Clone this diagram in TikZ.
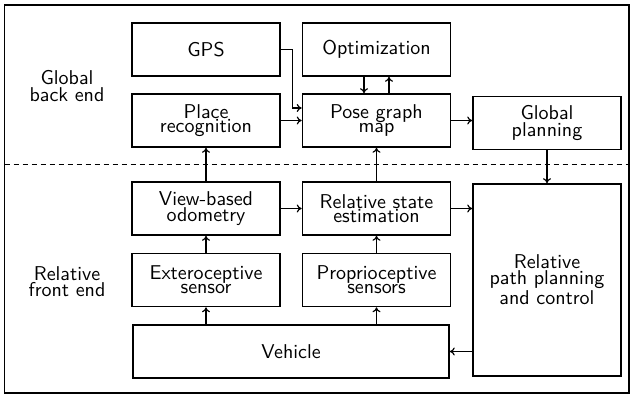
\documentclass[tikz,border=0pt]{standalone}
\usetikzlibrary{arrows.meta}
\begin{document}
\begin{tikzpicture}[x=0.5pt,y=-0.5pt,
  txt/.style={align=center,font=\sffamily\fontsize{10}{7}\selectfont,inner sep=0pt},
  box/.style={txt,draw,line width=0.8pt,minimum width=74pt,minimum height=26.5pt},
  arr/.style={-{To[length=2.5pt,width=4pt]},line width=0.6pt}]
\useasboundingbox (0,0) rectangle (633,396);
\draw[line width=0.8pt] (4.5,5) rectangle (629,393);
\draw[dashed,line width=0.5pt,dash pattern=on 2.5pt off 2pt] (4.5,164) coordinate (dl) -- (629,164) coordinate (dr);
% labels
\node[txt] (lgb) at (67,86) {Global\\back end};
\node[txt] (lrf) at (67,282) {Relative\\front end};
% boxes
\node[box] (gps) at (206,49.5) {GPS};
\node[box] (place) at (206,120.5) {Place\\recognition};
\node[box] (opt) at (376.5,49.5) {Optimization};
\node[box] (pose) at (376.5,120.5) {Pose graph\\map};
\node[box] (glob) at (547,123) {Global\\planning};
\node[box] (view) at (206,208.5) {View-based\\odometry};
\node[box] (rel) at (376.5,208.5) {Relative state\\estimation};
\node[box] (ext) at (206,280) {Exteroceptive\\sensor};
\node[box] (prop) at (376.5,280) {Proprioceptive\\sensors};
\node[box,minimum width=158pt] (veh) at (291,351.5) {Vehicle};
\node[box,minimum height=96pt] (path) at (547,280) {Relative\\path planning\\and control};
% connectors
\draw[arr] (gps.east) -- ++(12,0) |- ([yshift=6.25pt]pose.west);
\draw[arr] (place) -- (pose);
\draw[arr] ([xshift=-6.25pt]opt.south) -- ([xshift=-6.25pt]pose.north);
\draw[arr] ([xshift=6.25pt]pose.north) -- ([xshift=6.25pt]opt.south);
\draw[arr] (pose.east) -- (glob.west |- pose.east);
\draw[arr] (glob) -- (path);
\draw[arr] (view) -- (place);
\draw[arr] (rel) -- (pose);
\draw[arr] (view) -- (rel);
\draw[arr] (rel.east) -- (path.west |- rel.east);
\draw[arr] (ext) -- (view);
\draw[arr] (prop) -- (rel);
\draw[arr] (veh.north -| ext) -- (ext);
\draw[arr] (veh.north -| prop) -- (prop);
\draw[arr] (path.west |- veh.east) -- (veh.east);
\end{tikzpicture}
\end{document}
